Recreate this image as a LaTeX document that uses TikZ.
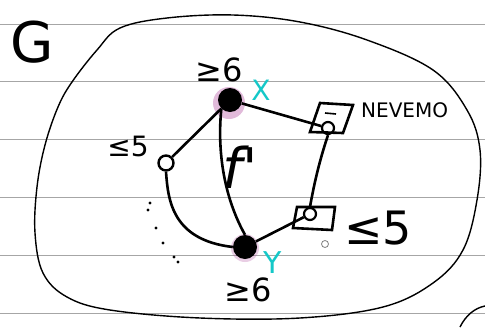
\documentclass[tikz,border=0pt]{standalone}
\usepackage{fontspec}
\setmainfont{DejaVu Sans}
\newfontfamily\hand{DejaVu Sans}
\definecolor{inkcyan}{RGB}{20,200,200}
\definecolor{halo}{RGB}{170,60,150}
\begin{document}
\begin{tikzpicture}[x=1pt,y=-1pt,
  ink/.style={line width=2.6pt,black},
  rule/.style={gray!70,line width=0.7pt},
  blob/.style={circle,fill=black,inner sep=0pt,minimum size=24pt},
  hole/.style={circle,draw=black,line width=2.4pt,fill=white,inner sep=0pt,minimum size=15pt},
  smallhole/.style={circle,draw=black,line width=2.2pt,inner sep=0pt,minimum size=12pt},
  lab/.style={inner sep=0pt,font=\hand}
]
\useasboundingbox (0,0) rectangle (485,327);
\fill[white] (0,0) rectangle (485,327);
% ruled paper lines
\foreach \yy in {24,81,139,197,255,313} \draw[rule] (0,\yy) -- (485,\yy);
% region outline
\draw[line width=1.4pt] plot[smooth cycle,tension=0.6] coordinates {
 (167,18) (233,15) (300,22) (367,40) (433,70) (467,110) (480,150) (477,200)
 (463,250) (433,283) (383,307) (300,318) (200,318) (110,310) (67,297) (43,273)
 (35,233) (37,187) (45,145) (58,107) (72,82) (97,50) (120,28)};
% partial arc bottom right
\draw[line width=1.4pt] (460,327) .. controls (466,315) and (475,308) .. (485,306);
% label G
\node[lab,font=\hand\fontsize{56}{56}\selectfont] (G) at (32,42) {G};
% halos
\fill[halo,opacity=0.35] (229,103) circle (16);
\fill[halo,opacity=0.25] (245,248) circle (14);
% nodes
\node[blob] (X) at (230,100) {};
\node[blob] (Y) at (245,247) {};
\node[hole] (L) at (166,163) {};
% NEVEMO square
\draw[ink] (320,103) -- (353,105) -- (343,133) -- (310,132) -- cycle;
\draw[line width=1.6pt] (325,113) -- (336,114);
\node[smallhole] (N) at (328,128) {};
% bottom square
\draw[ink] (297,207) -- (335,207) -- (332,230) -- (293,228) -- cycle;
\node[smallhole] (B) at (310,214) {};
\draw[gray,line width=0.8pt] (325,244) circle (3.5);
% edges
\draw[ink] (X) -- (L);
\draw[ink] (X) -- (N);
\draw[ink] (X.south west) .. controls (218,140) and (220,190) .. (Y.north);
\draw[ink] (L.south) .. controls (168,200) and (172,240) .. (Y.west);
\draw[ink] (Y) -- (B);
\draw[ink] (N.south) .. controls (318,165) and (313,190) .. (B.north);
% stray dots
\foreach \p in {(150,203),(148,210),(156,228),(163,243),(174,257),(178,262)}
  \fill \p circle (1.6);
% labels
\node[lab,font=\hand\fontsize{32}{32}\selectfont] (tX) at (219,70) {≥6};
\node[lab,font=\hand\fontsize{32}{32}\selectfont] (bY) at (248,290) {≥6};
\node[lab,font=\hand\fontsize{28}{28}\selectfont] (lL) at (128,146) {≤5};
\node[lab,font=\hand\fontsize{46}{46}\selectfont] (lB) at (378,228) {≤5};
\node[lab,font=\hand\fontsize{20}{20}\selectfont,anchor=west] (lN) at (361,110) {NEVEMO};
\node[lab,font=\hand\fontsize{56}{56}\selectfont\itshape] (f) at (240,167) {f'};
\node[lab,inkcyan,font=\hand\fontsize{28}{28}\selectfont] (cX) at (261,90) {X};
\node[lab,inkcyan,font=\hand\fontsize{30}{30}\selectfont] (cY) at (273,263) {Y};
\end{tikzpicture}
\end{document}
